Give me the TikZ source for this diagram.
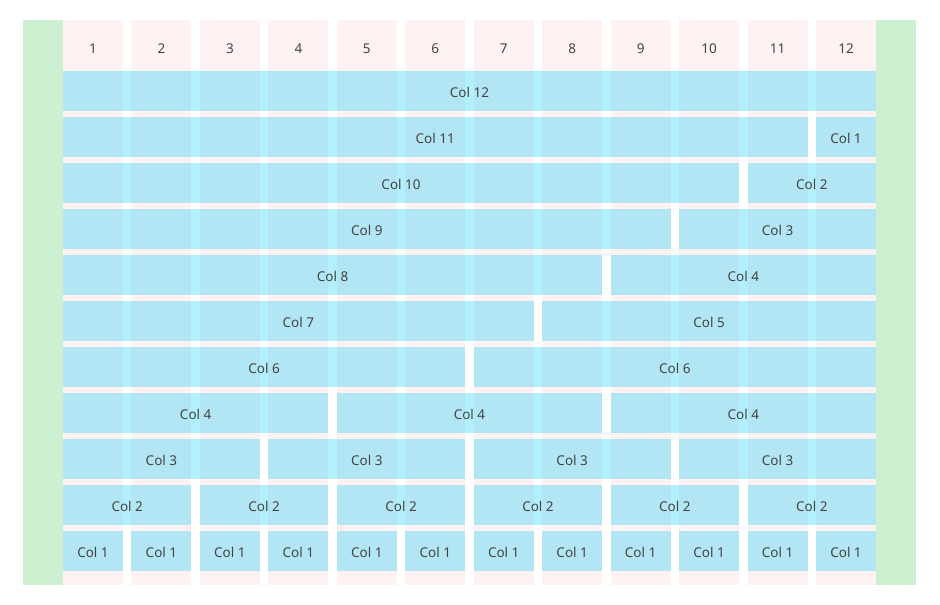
\documentclass[tikz,border=0pt]{standalone}
\usepackage{xcolor}
\usepackage{fontspec}
\setmainfont{Noto Sans}
\usepackage{tikz}
\usetikzlibrary{positioning, calc}

\definecolor{colpink}{RGB}{255,242,242}
\definecolor{gutgreen}{RGB}{204,240,208}
\definecolor{cellblue}{RGB}{0,205,251}
\definecolor{labelgray}{RGB}{68,68,68}

\begin{document}
\begin{tikzpicture}[x=1pt, y=-1pt,
    gridcol/.style={rectangle, fill=colpink, inner sep=0pt, minimum width=60pt, minimum height=565pt},
    colnum/.style={text=labelgray, font=\fontsize{13.5}{16}\selectfont},
    cell/.style={rectangle, fill=cellblue, fill opacity=0.3, text opacity=1, text=labelgray,
        inner sep=0pt, minimum height=40pt, text height=12pt, text depth=0pt,
        font=\fontsize{13.5}{16}\selectfont}]
        \useasboundingbox (0,0) rectangle (940,605);
        % side margins
        \fill[gutgreen] (23,20) rectangle (63,585);
        \fill[gutgreen] (876,20) rectangle (916,585);
        % the 12 columns
        \foreach \i in {1,...,12} {
            \pgfmathsetmacro{\cx}{63 + (\i-1)*68.4545 + 30}
            \node (col\i) [gridcol] at (\cx,302.5) {};
            \node (num\i) [colnum] at (\cx,48.5) {\i};
        }
        % rows of cells: row/{start/span,...}
        \foreach \r/\cells in {1/{1/12}, 2/{1/11,12/1}, 3/{1/10,11/2}, 4/{1/9,10/3},
            5/{1/8,9/4}, 6/{1/7,8/5}, 7/{1/6,7/6}, 8/{1/4,5/4,9/4},
            9/{1/3,4/3,7/3,10/3}, 10/{1/2,3/2,5/2,7/2,9/2,11/2},
            11/{1/1,2/1,3/1,4/1,5/1,6/1,7/1,8/1,9/1,10/1,11/1,12/1}} {
            \foreach \c/\n in \cells {
                \pgfmathsetmacro{\w}{\n*68.4545 - 8.4545}
                \pgfmathsetmacro{\x}{63 + (\c-1)*68.4545 + \w/2}
                \pgfmathsetmacro{\y}{91 + (\r-1)*46}
                \node (cell\r-\c) [cell, minimum width=\w pt] at (\x,\y) {Col \n};
            }
        }
    \end{tikzpicture}
\end{document}
